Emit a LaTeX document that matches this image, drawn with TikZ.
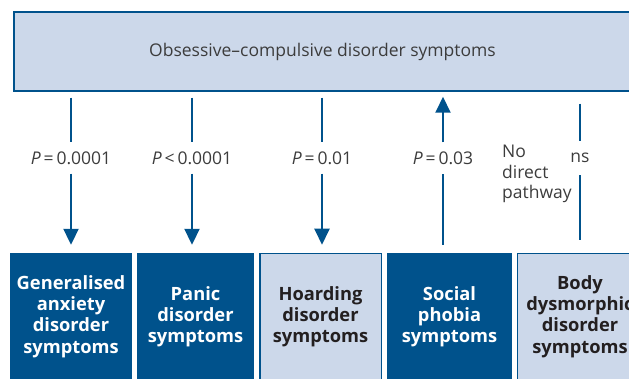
\documentclass[tikz,border=0pt]{standalone}
\usepackage{fontspec}
\setmainfont{Open Sans}
\usetikzlibrary{arrows.meta}
\definecolor{dblue}{HTML}{00528C}
\definecolor{lblue}{HTML}{CCD8EA}
\definecolor{tgrey}{HTML}{3C3C3C}
\definecolor{tdark}{HTML}{231F20}
\begin{document}
\begin{tikzpicture}[x=1pt,y=-1pt,
 topbox/.style={draw=dblue,line width=1.5pt,fill=lblue,minimum width=617pt,minimum height=79pt,inner sep=0pt,font=\fontsize{17.5}{20}\selectfont,text=tgrey},
 darkbox/.style={fill=dblue,text=white,minimum height=127pt,inner sep=0pt,align=center,font=\bfseries\fontsize{18.3}{21.2}\selectfont},
 lightbox/.style={draw=dblue,line width=1.5pt,fill=lblue,text=tdark,minimum height=126pt,inner sep=0pt,align=center,font=\bfseries\fontsize{18.3}{21.2}\selectfont},
 plabel/.style={minimum height=31pt,inner sep=0pt,text=tgrey,font=\fontsize{17.5}{20}\selectfont},
 conn/.style={draw=dblue,line width=2pt},
 tip/.style={-{Triangle[width=15pt,length=16pt]}}
]
\useasboundingbox (0,0) rectangle (629,379);
\begin{scope}
\clip (0,0) rectangle (629,379);
\node[topbox] (top) at (322.5,51.5) {Obsessive–compulsive disorder symptoms};
\node[darkbox,minimum width=122pt] (b1) at (71,316.5) {Generalised\\anxiety\\disorder\\symptoms};
\node[darkbox,minimum width=117pt] (b2) at (195.5,316.5) {Panic\\disorder\\symptoms};
\node[lightbox,minimum width=121.5pt] (b3) at (320.5,316.5) {Hoarding\\disorder\\symptoms};
\node[darkbox,minimum width=125pt] (b4) at (449.5,316.5) {Social\\phobia\\symptoms};
\node[lightbox,minimum width=125pt] (b5) at (580,316.5) {Body\\dysmorphic\\disorder\\symptoms};

\node[plabel] (p1) at (71,158) {{\itshape P}\,=\,0.0001};
\node[plabel] (p2) at (192,158) {{\itshape P}\,<\,0.0001};
\node[plabel] (p3) at (322,158) {{\itshape P}\,=\,0.01};
\node[plabel] (p4) at (443,158) {{\itshape P}\,=\,0.03};
\node[plabel,minimum height=34pt] (p5) at (580,158) {ns};
\node[anchor=north west,inner sep=0pt,align=left,text=tgrey,font=\fontsize{17.5}{20.5}\selectfont] (nd) at (502,145) {No\\direct\\pathway};

\draw[conn,shorten <=6pt] (top.south -| p1) -- (p1.north);
\draw[conn,tip,shorten >=8pt] (p1.south) -- (p1 |- b1.north);
\draw[conn,shorten <=6pt] (top.south -| p2) -- (p2.north);
\draw[conn,tip,shorten >=8pt] (p2.south) -- (p2 |- b2.north);
\draw[conn,shorten <=6pt] (top.south -| p3) -- (p3.north);
\draw[conn,tip,shorten >=8pt] (p3.south) -- (p3 |- b3.north);
\draw[conn,shorten <=8pt] (p4 |- b4.north) -- (p4.south);
\draw[conn,tip,shorten >=5pt] (p4.north) -- (p4 |- top.south);
\draw[conn,shorten <=12pt] (top.south -| p5) -- (p5.north);
\draw[conn,shorten >=13pt] (p5.south) -- (p5 |- b5.north);
\end{scope}
\end{tikzpicture}
\end{document}
